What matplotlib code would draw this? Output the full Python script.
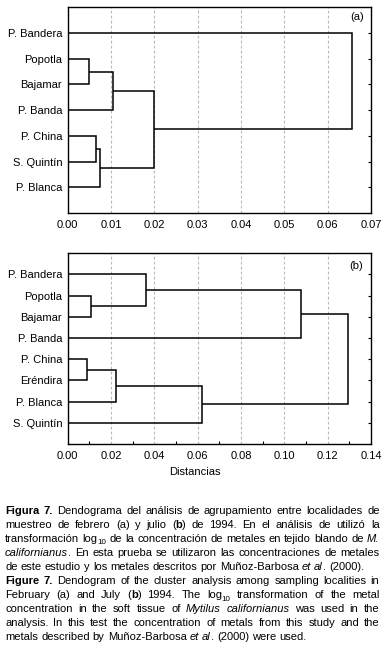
import matplotlib
matplotlib.use("Agg")
import matplotlib.pyplot as plt
from matplotlib.ticker import MultipleLocator

# ---------------- data ----------------
leaves_a = ["P. Bandera", "Popotla", "Bajamar", "P. Banda", "P. China", "S. Quintín", "P. Blanca"]
# (node_i, node_j, distance); new nodes numbered after leaves
merges_a = [(1, 2, 0.0050), (7, 3, 0.0105), (4, 5, 0.0065), (9, 6, 0.0075),
            (8, 10, 0.0200), (0, 11, 0.0657)]

leaves_b = ["P. Bandera", "Popotla", "Bajamar", "P. Banda", "P. China", "Eréndira", "P. Blanca", "S. Quintín"]
merges_b = [(1, 2, 0.0106), (0, 8, 0.0363), (9, 3, 0.1076), (4, 5, 0.0091),
            (11, 6, 0.0224), (12, 7, 0.0619), (10, 13, 0.1293)]

xticks_a = [0.00, 0.01, 0.02, 0.03, 0.04, 0.05, 0.06, 0.07]
xticks_b = [0.00, 0.02, 0.04, 0.06, 0.08, 0.10, 0.12, 0.14]
panel_labels = ["(a)", "(b)"]
xlabel_text = "Distancias"

caption_lines = [
    [("b", "Figura 7."), ("n", " Dendograma del análisis de agrupamiento entre localidades de")],
    [("n", "muestreo de febrero (a) y julio ("), ("b", "b"), ("n", ") de 1994. En el análisis de utilizó la")],
    [("n", "transformación log"), ("s", "10"), ("n", " de la concentración de metales en tejido blando de "), ("i", "M.")],
    [("i", "californianus"), ("n", ". En esta prueba se utilizaron las concentraciones de metales")],
    [("n", "de este estudio y los metales descritos por Muñoz-Barbosa "), ("i", "et al"), ("n", ". (2000).")],
    [("b", "Figure 7."), ("n", " Dendogram of the cluster analysis among sampling localities in")],
    [("n", "February (a) and July ("), ("b", "b"), ("n", ") 1994. The log"), ("s", "10"), ("n", " transformation of the metal")],
    [("n", "concentration in the soft tissue of "), ("i", "Mytilus californianus"), ("n", " was used in the")],
    [("n", "analysis. In this test the concentration of metals from this study and the")],
    [("n", "metals described by Muñoz-Barbosa "), ("i", "et al"), ("n", ". (2000) were used.")],
]
justify = [True, True, True, True, False, True, True, True, True, False]

# ---------------- figure ----------------
W, H = 385, 653
DPI = 100
FONT = "Liberation Sans"
plt.rcParams["font.family"] = [FONT, "DejaVu Sans"]
fig = plt.figure(figsize=(W / DPI, H / DPI), dpi=DPI)
fig.patch.set_facecolor("white")

TICK_FS = 8.0


def px_axes(left, top, right, bottom):
    return fig.add_axes([left / W, 1 - bottom / H, (right - left) / W, (bottom - top) / H])


def draw_dendro(ax, leaves, merges, xticks, label, label_pos, minor=None):
    n = len(leaves)
    pos = {i: (0.0, i + 1) for i in range(n)}
    for k, (a, b, h) in enumerate(merges):
        xa, ya = pos[a]
        xb, yb = pos[b]
        ax.plot([xa, h, h, xb], [ya, ya, yb, yb], color="black", lw=1.1,
                solid_joinstyle="miter", solid_capstyle="butt", zorder=3, clip_on=False)
        pos[n + k] = (h, (ya + yb) / 2)
    ax.set_xlim(xticks[0], xticks[-1])
    ax.set_ylim(n + 1, 0)
    ax.set_yticks(range(1, n + 1))
    ax.set_yticklabels(leaves, fontsize=TICK_FS)
    ax.set_xticks(xticks)
    ax.set_xticklabels([f"{t:.2f}" for t in xticks], fontsize=TICK_FS)
    if minor:
        ax.xaxis.set_minor_locator(MultipleLocator(minor))
        ax.tick_params(axis="x", which="minor", direction="in", length=2.5, width=0.8,
                       bottom=True, top=False)
    ax.tick_params(axis="x", which="major", length=0, pad=5)
    ax.tick_params(axis="y", which="major", left=False, right=True, direction="in",
                   length=2.5, width=0.8, pad=4, labelright=False)
    ax.grid(axis="x", which="major", color="#b8b8b8", linestyle=(0, (2.5, 2)), lw=0.8, zorder=0)
    ax.set_axisbelow(True)
    for sp in ax.spines.values():
        sp.set_linewidth(1.0)
        sp.set_color("black")
    ax.text(label_pos[0], label_pos[1], label, transform=ax.transAxes, fontsize=TICK_FS,
            ha="center", va="center")


ax1 = px_axes(67.7, 7.3, 371, 213)
draw_dendro(ax1, leaves_a, merges_a, xticks_a, panel_labels[0], (0.954, 0.953))

ax2 = px_axes(67.7, 253.3, 371, 444)
draw_dendro(ax2, leaves_b, merges_b, xticks_b, panel_labels[1], (0.952, 0.933), minor=0.01)
ax2.set_xlabel(xlabel_text, fontsize=TICK_FS)
ax2.xaxis.label.set_va("center")
ax2.xaxis.set_label_coords(0.42, -0.145)

# ---------------- justified caption ----------------
CAP_FS = 8.0
renderer = fig.canvas.get_renderer()


def seg_props(style):
    d = dict(fontsize=CAP_FS, family=[FONT, "DejaVu Sans"])
    if style == "b":
        d["fontweight"] = "bold"
    elif style == "i":
        d["fontstyle"] = "italic"
    elif style == "s":
        d["fontsize"] = CAP_FS * 0.72
    return d


def measure(text, style):
    t = fig.text(0, 0, text, **seg_props(style))
    w = t.get_window_extent(renderer).width
    t.remove()
    return w


def to_words(segs):
    words = [[]]
    for style, txt in segs:
        parts = txt.split(" ")
        for i, p in enumerate(parts):
            if i > 0:
                words.append([])
            if p:
                words[-1].append((style, p))
    return [w for w in words if w]


x_left, x_right = 5.0, 379.5
base0, pitch = 513.5, 14.1
space_w = measure("a a", "n") - measure("aa", "n")
for li, segs in enumerate(caption_lines):
    words = to_words(segs)
    widths = [[measure(t, s) for s, t in w] for w in words]
    totals = [sum(ws) for ws in widths]
    if justify[li] and len(words) > 1:
        gap = max((x_right - x_left - sum(totals)) / (len(words) - 1), 1.5)
    else:
        gap = space_w
    y = base0 + li * pitch
    x = x_left
    for w, ws in zip(words, widths):
        xx = x
        for (s, t), sw in zip(w, ws):
            yy = y + (2.6 if s == "s" else 0)
            fig.text(xx / W, 1 - yy / H, t, ha="left", va="baseline", **seg_props(s))
            xx += sw
        x += sum(ws) + gap

fig.savefig("out.png", dpi=DPI, facecolor="white")
